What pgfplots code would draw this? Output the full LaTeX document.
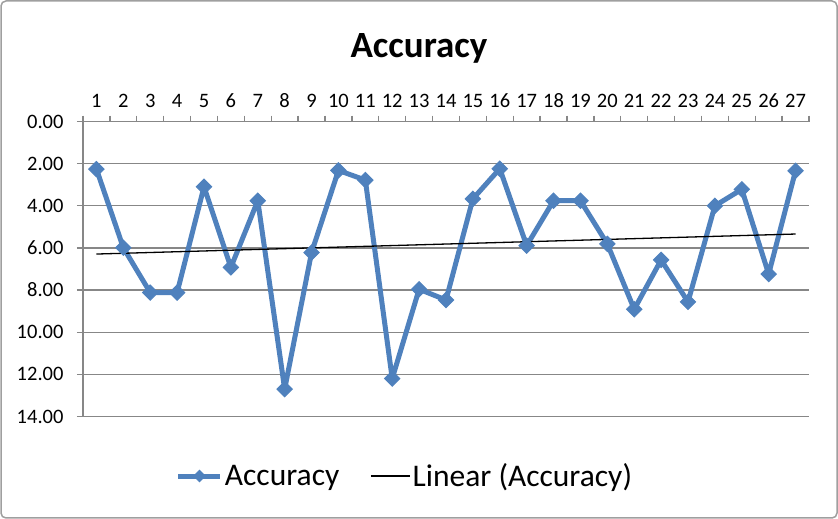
\documentclass[border=0pt]{standalone}
\usepackage{fontspec}
\setmainfont{Carlito}
\usepackage{pgfplots}
\pgfplotsset{compat=1.18}
\definecolor{acc}{HTML}{4F81BD}
\definecolor{gridc}{HTML}{878787}
\pgfplotsset{
  accleg/.style={legend image code/.code={\draw[##1, mark repeat=2, mark phase=2, mark size=4pt] plot coordinates {(0pt,0pt) (21pt,0pt) (42pt,0pt)};}},
  trendleg/.style={legend image code/.code={\draw[##1] (0pt,0pt) -- (39pt,0pt);}},
}
\begin{document}
\begin{tikzpicture}[x=1pt,y=1pt]
\useasboundingbox (0,0) rectangle (838,519);
\draw[gridc!80, line width=1.5pt, rounded corners=5pt] (1,1) rectangle (837,518);
\node[font=\fontsize{37}{42}\selectfont\bfseries, anchor=base] at (419,461) {Accuracy};
\begin{axis}[
  at={(83pt,102.5pt)}, anchor=south west,
  scale only axis, width=726pt, height=295pt,
  xmin=0.5, xmax=27.5, ymin=0, ymax=14,
  y dir=reverse,
  axis x line*=top, axis y line*=left,
  axis line style={gridc, line width=1.3pt, -},
  xtick={1,...,27},
  minor xtick={0.5,1.5,...,27.5},
  major x tick style={draw=none},
  minor x tick style={gridc, line width=1.3pt},
  minor tick length=6pt,
  ytick={0,2,...,14},
  y tick style={gridc, line width=1.3pt},
  major tick length=6pt,
  tick align=outside,
  ymajorgrids,
  grid style={gridc, line width=1.3pt},
  yticklabel style={/pgf/number format/fixed, /pgf/number format/zerofill, /pgf/number format/precision=2, xshift=-10pt},
  /pgf/number format/assume math mode=true,
  ticklabel style={font=\fontsize{20.5}{24}\selectfont, text=black},
  xticklabel style={yshift=4pt},
  legend style={at={(0.4435,-0.2017)}, anchor=center, draw=none, fill=none,
    font=\fontsize{31.5}{36}\selectfont, legend columns=2,
    /tikz/every even column/.append style={column sep=29pt}},
  legend cell align=left,
  clip=false,
]
\addplot[acc, line width=5pt, line join=round, mark=square*, mark size=5.4pt, mark options={rotate=45, line width=1pt, line join=miter}, accleg]
coordinates {
(1,2.26) (2,5.99) (3,8.12) (4,8.12) (5,3.10) (6,6.92) (7,3.76) (8,12.70) (9,6.22)
(10,2.32) (11,2.78) (12,12.20) (13,7.96) (14,8.47) (15,3.67) (16,2.24) (17,5.89)
(18,3.76) (19,3.76) (20,5.81) (21,8.91) (22,6.57) (23,8.56) (24,4.00) (25,3.22)
(26,7.24) (27,2.34)
};
\addlegendentry{Accuracy}
\addplot[black, line width=1.3pt, no marks, trendleg]
coordinates {(1,6.29) (27,5.34)};
\addlegendentry{Linear (Accuracy)}
\end{axis}
\end{tikzpicture}
\end{document}
